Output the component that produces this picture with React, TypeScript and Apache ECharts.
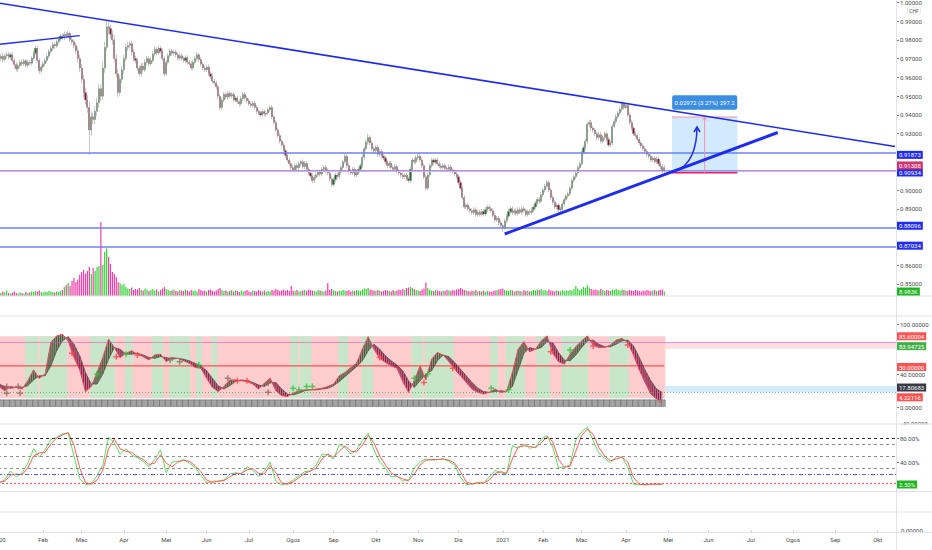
import React, { useEffect, useRef } from "react";
import * as echarts from "echarts";

const FONT = "Roboto, 'Liberation Sans', sans-serif";

// ---------- PRICE PANE (daily bars, values in 1/10000 CHF) ----------
const openP = [
  9690, 9700, 9712, 9695, 9715, 9722, 9708, 9720, 9690, 9668,
  9645, 9662, 9680, 9672, 9688, 9665, 9680, 9675, 9702, 9730,
  9755, 9690, 9635, 9655, 9672, 9690, 9712, 9738, 9755, 9775,
  9768, 9790, 9805, 9820, 9812, 9830, 9822, 9835, 9800, 9790,
  9770, 9742, 9700, 9650, 9590, 9520, 9480, 9440, 9320, 9390,
  9375, 9420, 9465, 9540, 9500, 9650, 9760, 9870, 9860, 9830,
  9800, 9700, 9620, 9520, 9590, 9640, 9700, 9760, 9770, 9780,
  9735, 9700, 9690, 9650, 9620, 9660, 9640, 9680, 9700, 9672,
  9690, 9725, 9750, 9730, 9755, 9740, 9700, 9620, 9680, 9715,
  9740, 9728, 9735, 9720, 9702, 9715, 9700, 9690, 9705, 9680,
  9672, 9650, 9680, 9700, 9720, 9695, 9670, 9650, 9640, 9655,
  9620, 9605, 9580, 9570, 9550, 9500, 9440, 9480, 9510, 9495,
  9515, 9500, 9510, 9480, 9490, 9470, 9460, 9488, 9510, 9490,
  9475, 9460, 9450, 9462, 9440, 9420, 9410, 9400, 9418, 9405,
  9410, 9428, 9440, 9390, 9360, 9320, 9290, 9260, 9240, 9210,
  9185, 9160, 9140, 9120, 9108, 9130, 9118, 9140, 9150, 9125,
  9142, 9110, 9090, 9075, 9050, 9068, 9080, 9098, 9085, 9110,
  9120, 9102, 9090, 9060, 9030, 9055, 9080, 9072, 9095, 9120,
  9150, 9180, 9130, 9100, 9092, 9110, 9080, 9095, 9110, 9130,
  9175, 9220, 9255, 9280, 9250, 9220, 9210, 9228, 9190, 9205,
  9180, 9170, 9150, 9130, 9142, 9120, 9110, 9125, 9100, 9090,
  9080, 9070, 9078, 9060, 9050, 9110, 9160, 9150, 9172, 9180,
  9160, 9130, 9070, 9010, 9080, 9130, 9160, 9148, 9160, 9140,
  9128, 9120, 9130, 9115, 9110, 9122, 9105, 9100, 9085, 9070,
  9040, 9010, 8960, 8910, 8920, 8900, 8890, 8880, 8895, 8870,
  8882, 8870, 8885, 8872, 8895, 8910, 8900, 8890, 8865, 8840,
  8850, 8825, 8810, 8800, 8835, 8860, 8885, 8900, 8880, 8890,
  8875, 8895, 8882, 8900, 8890, 8870, 8885, 8880, 8895, 8910,
  8930, 8950, 8940, 8975, 9000, 9020, 9040, 9000, 8960, 8935,
  8910, 8920, 8895, 8900, 8925, 8950, 8968, 8980, 9010, 9050,
  9070, 9090, 9120, 9140, 9200, 9225, 9260, 9350, 9360, 9330,
  9320, 9300, 9280, 9295, 9260, 9280, 9300, 9270, 9240, 9250,
  9340, 9365, 9390, 9410, 9430, 9460, 9440, 9450, 9400, 9360,
  9330, 9300, 9290, 9270, 9250, 9235, 9220, 9205, 9190, 9180,
  9160, 9170, 9150, 9165, 9140, 9125, 9100,
];
const closeP = [
  9700, 9712, 9695, 9715, 9722, 9708, 9720, 9690, 9668, 9645,
  9662, 9680, 9672, 9688, 9665, 9680, 9675, 9702, 9730, 9755,
  9690, 9635, 9655, 9672, 9690, 9712, 9738, 9755, 9775, 9768,
  9790, 9805, 9820, 9812, 9830, 9822, 9835, 9800, 9790, 9770,
  9742, 9700, 9650, 9590, 9520, 9480, 9440, 9320, 9390, 9375,
  9420, 9465, 9540, 9500, 9650, 9760, 9870, 9860, 9830, 9800,
  9700, 9620, 9520, 9590, 9640, 9700, 9760, 9770, 9780, 9735,
  9700, 9690, 9650, 9620, 9660, 9640, 9680, 9700, 9672, 9690,
  9725, 9750, 9730, 9755, 9740, 9700, 9620, 9680, 9715, 9740,
  9728, 9735, 9720, 9702, 9715, 9700, 9690, 9705, 9680, 9672,
  9650, 9680, 9700, 9720, 9695, 9670, 9650, 9640, 9655, 9620,
  9605, 9580, 9570, 9550, 9500, 9440, 9480, 9510, 9495, 9515,
  9500, 9510, 9480, 9490, 9470, 9460, 9488, 9510, 9490, 9475,
  9460, 9450, 9462, 9440, 9420, 9410, 9400, 9418, 9405, 9410,
  9428, 9440, 9390, 9360, 9320, 9290, 9260, 9240, 9210, 9185,
  9160, 9140, 9120, 9108, 9130, 9118, 9140, 9150, 9125, 9142,
  9110, 9090, 9075, 9050, 9068, 9080, 9098, 9085, 9110, 9120,
  9102, 9090, 9060, 9030, 9055, 9080, 9072, 9095, 9120, 9150,
  9180, 9130, 9100, 9092, 9110, 9080, 9095, 9110, 9130, 9175,
  9220, 9255, 9280, 9250, 9220, 9210, 9228, 9190, 9205, 9180,
  9170, 9150, 9130, 9142, 9120, 9110, 9125, 9100, 9090, 9080,
  9070, 9078, 9060, 9050, 9110, 9160, 9150, 9172, 9180, 9160,
  9130, 9070, 9010, 9080, 9130, 9160, 9148, 9160, 9140, 9128,
  9120, 9130, 9115, 9110, 9122, 9105, 9100, 9085, 9070, 9040,
  9010, 8960, 8910, 8920, 8900, 8890, 8880, 8895, 8870, 8882,
  8870, 8885, 8872, 8895, 8910, 8900, 8890, 8865, 8840, 8850,
  8825, 8810, 8800, 8835, 8860, 8885, 8900, 8880, 8890, 8875,
  8895, 8882, 8900, 8890, 8870, 8885, 8880, 8895, 8910, 8930,
  8950, 8940, 8975, 9000, 9020, 9040, 9000, 8960, 8935, 8910,
  8920, 8895, 8900, 8925, 8950, 8968, 8980, 9010, 9050, 9070,
  9090, 9120, 9140, 9200, 9225, 9260, 9350, 9360, 9330, 9320,
  9300, 9280, 9295, 9260, 9280, 9300, 9270, 9240, 9250, 9340,
  9365, 9390, 9410, 9430, 9460, 9440, 9450, 9400, 9360, 9330,
  9300, 9290, 9270, 9250, 9235, 9220, 9205, 9190, 9180, 9160,
  9170, 9150, 9165, 9140, 9125, 9100, 9120,
];
const highP = [
  9718, 9725, 9730, 9728, 9738, 9735, 9732, 9735, 9705, 9680,
  9675, 9692, 9695, 9700, 9700, 9695, 9692, 9715, 9742, 9770,
  9768, 9702, 9668, 9685, 9702, 9725, 9750, 9768, 9790, 9788,
  9802, 9818, 9832, 9835, 9845, 9842, 9848, 9845, 9815, 9805,
  9785, 9760, 9720, 9672, 9612, 9545, 9505, 9470, 9420, 9412,
  9445, 9490, 9565, 9560, 9680, 9790, 9900, 9895, 9880, 9850,
  9825, 9725, 9645, 9610, 9660, 9720, 9778, 9790, 9795, 9795,
  9750, 9715, 9705, 9665, 9675, 9678, 9695, 9715, 9712, 9705,
  9740, 9765, 9762, 9770, 9768, 9752, 9712, 9695, 9728, 9755,
  9752, 9748, 9748, 9732, 9728, 9728, 9712, 9718, 9718, 9692,
  9685, 9692, 9712, 9735, 9732, 9708, 9682, 9662, 9668, 9668,
  9632, 9618, 9592, 9582, 9562, 9512, 9492, 9522, 9522, 9528,
  9528, 9522, 9522, 9502, 9502, 9482, 9500, 9522, 9522, 9502,
  9488, 9472, 9475, 9475, 9452, 9432, 9422, 9430, 9430, 9422,
  9440, 9452, 9452, 9402, 9372, 9332, 9302, 9272, 9252, 9222,
  9198, 9172, 9152, 9132, 9142, 9142, 9152, 9162, 9162, 9155,
  9155, 9122, 9102, 9088, 9080, 9092, 9110, 9110, 9122, 9132,
  9132, 9115, 9102, 9072, 9068, 9092, 9092, 9108, 9132, 9162,
  9192, 9192, 9142, 9112, 9122, 9122, 9108, 9122, 9142, 9188,
  9232, 9268, 9300, 9292, 9262, 9232, 9240, 9240, 9218, 9218,
  9192, 9182, 9162, 9155, 9155, 9132, 9138, 9138, 9112, 9102,
  9092, 9090, 9090, 9072, 9122, 9172, 9172, 9185, 9192, 9192,
  9172, 9142, 9082, 9092, 9142, 9172, 9172, 9172, 9172, 9152,
  9140, 9142, 9142, 9128, 9135, 9135, 9118, 9112, 9098, 9082,
  9052, 9022, 8972, 8932, 8932, 8912, 8902, 8908, 8908, 8895,
  8895, 8898, 8898, 8908, 8922, 8922, 8912, 8902, 8878, 8862,
  8862, 8838, 8822, 8848, 8872, 8898, 8912, 8912, 8902, 8902,
  8908, 8908, 8912, 8912, 8902, 8898, 8898, 8908, 8922, 8942,
  8962, 8962, 8988, 9012, 9032, 9052, 9052, 9012, 8972, 8948,
  8932, 8932, 8912, 8938, 8962, 8980, 8992, 9022, 9062, 9082,
  9102, 9132, 9152, 9212, 9238, 9272, 9362, 9375, 9372, 9342,
  9332, 9312, 9308, 9308, 9292, 9312, 9312, 9282, 9262, 9352,
  9378, 9402, 9422, 9442, 9475, 9472, 9462, 9462, 9412, 9372,
  9342, 9312, 9302, 9282, 9262, 9248, 9232, 9218, 9202, 9192,
  9182, 9182, 9178, 9178, 9152, 9138, 9132,
];
const lowP = [
  9675, 9688, 9680, 9685, 9702, 9695, 9695, 9678, 9650, 9632,
  9630, 9650, 9660, 9660, 9652, 9652, 9662, 9662, 9690, 9718,
  9678, 9620, 9622, 9642, 9660, 9678, 9700, 9725, 9742, 9752,
  9755, 9778, 9792, 9798, 9800, 9808, 9810, 9788, 9775, 9755,
  9725, 9680, 9630, 9570, 9495, 9455, 9410, 9187, 9290, 9350,
  9350, 9395, 9440, 9475, 9480, 9625, 9740, 9830, 9805, 9775,
  9680, 9598, 9495, 9500, 9570, 9620, 9685, 9742, 9752, 9715,
  9685, 9675, 9635, 9605, 9605, 9625, 9628, 9665, 9658, 9660,
  9678, 9712, 9718, 9718, 9728, 9688, 9605, 9608, 9668, 9702,
  9715, 9715, 9708, 9690, 9690, 9688, 9678, 9678, 9668, 9660,
  9638, 9638, 9668, 9688, 9682, 9658, 9638, 9628, 9628, 9608,
  9592, 9568, 9558, 9535, 9485, 9425, 9428, 9468, 9482, 9482,
  9488, 9488, 9468, 9468, 9458, 9445, 9448, 9475, 9478, 9462,
  9448, 9438, 9438, 9428, 9408, 9398, 9388, 9388, 9392, 9392,
  9398, 9415, 9378, 9348, 9308, 9278, 9248, 9228, 9198, 9172,
  9148, 9128, 9108, 9095, 9095, 9105, 9105, 9128, 9112, 9112,
  9098, 9078, 9062, 9035, 9038, 9055, 9068, 9072, 9072, 9098,
  9090, 9078, 9048, 9018, 9018, 9042, 9060, 9060, 9082, 9108,
  9138, 9118, 9088, 9080, 9080, 9068, 9068, 9082, 9098, 9118,
  9162, 9208, 9242, 9238, 9208, 9198, 9198, 9178, 9178, 9168,
  9158, 9138, 9118, 9118, 9108, 9098, 9098, 9088, 9078, 9068,
  9058, 9058, 9048, 9038, 9038, 9098, 9138, 9138, 9160, 9148,
  9118, 9058, 8998, 8998, 9068, 9118, 9135, 9135, 9128, 9115,
  9108, 9108, 9102, 9098, 9098, 9092, 9088, 9072, 9058, 9028,
  8998, 8948, 8898, 8898, 8888, 8878, 8868, 8868, 8858, 8858,
  8858, 8858, 8860, 8860, 8882, 8888, 8878, 8852, 8828, 8828,
  8812, 8798, 8777, 8788, 8822, 8848, 8872, 8868, 8868, 8862,
  8862, 8870, 8870, 8878, 8858, 8858, 8868, 8868, 8882, 8898,
  8918, 8928, 8928, 8962, 8988, 9008, 8988, 8948, 8922, 8898,
  8898, 8882, 8882, 8888, 8912, 8938, 8955, 8968, 8998, 9038,
  9058, 9078, 9108, 9128, 9188, 9212, 9248, 9335, 9318, 9308,
  9288, 9268, 9268, 9248, 9248, 9268, 9258, 9228, 9228, 9238,
  9328, 9352, 9378, 9398, 9418, 9428, 9428, 9388, 9348, 9318,
  9288, 9278, 9258, 9238, 9222, 9208, 9192, 9178, 9168, 9148,
  9148, 9138, 9138, 9128, 9112, 9088, 9090,
];
// volume in thousands
const volumeK = [
  8, 6, 9, 7, 11, 6, 5, 7, 9, 6,
  5, 7, 6, 5, 8, 6, 7, 9, 8, 10,
  9, 11, 8, 7, 9, 8, 10, 9, 8, 7,
  9, 8, 10, 12, 18, 22, 26, 20, 30, 36,
  28, 33, 42, 48, 52, 45, 50, 58, 44, 56,
  50, 58, 60, 148, 62, 88, 95, 78, 64, 48,
  44, 38, 28, 26, 22, 24, 18, 15, 14, 17,
  12, 14, 13, 16, 12, 11, 15, 13, 10, 12,
  14, 11, 13, 9, 12, 15, 18, 14, 12, 10,
  11, 13, 10, 9, 12, 11, 10, 13, 11, 9,
  12, 10, 11, 9, 14, 12, 10, 11, 9, 12,
  13, 10, 9, 11, 14, 16, 12, 10, 11, 9,
  10, 12, 9, 11, 10, 8, 11, 9, 10, 12,
  9, 8, 11, 10, 9, 12, 10, 9, 11, 8,
  10, 9, 12, 11, 14, 12, 10, 11, 13, 10,
  12, 10, 20, 11, 10, 12, 9, 10, 11, 12,
  10, 13, 12, 11, 10, 9, 12, 11, 10, 9,
  11, 26, 12, 14, 11, 10, 9, 11, 10, 12,
  11, 10, 12, 9, 11, 10, 12, 11, 10, 13,
  15, 14, 16, 13, 12, 11, 10, 12, 11, 9,
  10, 12, 11, 10, 9, 12, 10, 11, 13, 12,
  14, 12, 16, 17, 18, 16, 14, 12, 11, 10,
  13, 15, 27, 16, 13, 11, 10, 12, 11, 10,
  9, 11, 10, 12, 11, 10, 12, 11, 13, 14,
  16, 14, 12, 11, 10, 9, 11, 10, 12, 9,
  10, 9, 11, 8, 10, 9, 8, 10, 11, 12,
  13, 14, 15, 12, 11, 10, 12, 11, 9, 10,
  11, 10, 9, 12, 10, 11, 9, 10, 12, 11,
  13, 12, 14, 11, 12, 10, 13, 11, 10, 9,
  11, 10, 9, 12, 10, 11, 10, 12, 11, 14,
  20, 15, 12, 14, 18, 16, 22, 17, 14, 12,
  13, 12, 11, 14, 12, 10, 12, 11, 10, 13,
  12, 14, 12, 11, 13, 12, 11, 10, 12, 11,
  10, 12, 11, 10, 9, 11, 10, 12, 11, 10,
  11, 12, 10, 11, 12, 13, 8.983,
];
// price-scale labels that are not covered by the level tags
const priceTicks = [0.85, 0.86, 0.89, 0.9, 0.93, 0.94, 0.95, 0.96, 0.97, 0.98, 0.99, 1.0];
const blueLevels = [0.91873, 0.90934, 0.88096, 0.87034];
const pinkLevel = 0.91308;
// trend lines: [barIndex, price]
const trendDown = [[0, 0.99956], [466, 0.92318]];
const trendSmall = [[0, 0.97757], [42, 0.98226]];
const trendUp = [[263, 0.87657], [405, 0.93064]];
// measure tool
const measureBars = [350, 367, 384];
const measurePrices = [0.90917, 0.93889];

// ---------- OSCILLATOR PANE (one point every 3 bars) ----------
const STEP = 3;
const oscFast = [
  25, 20, 25, 24, 22, 32, 45, 35, 40, 78, 86, 88, 80, 60, 45, 19, 25, 42, 60, 82,
  72, 60, 65, 68, 64, 61, 57, 63, 64, 55, 60, 59, 56, 53, 48, 47, 35, 24, 19, 25,
  33, 33, 32, 31, 28, 22, 29, 35, 20, 14, 13, 17, 20, 21, 21, 22, 23, 25, 28, 38,
  42, 48, 53, 70, 85, 70, 59, 54, 50, 47, 31, 18, 32, 50, 33, 58, 66, 63, 55, 46,
  38, 30, 22, 18, 16, 18, 22, 18, 19, 42, 70, 79, 67, 70, 80, 86, 65, 55, 52, 64,
  73, 80, 86, 75, 72, 72, 75, 81, 83, 78, 63, 45, 30, 16, 10, 4.22,
];
const oscSlow = [
  28, 25, 23, 24, 24, 26, 33, 38, 38, 50, 68, 80, 85, 76, 62, 42, 28, 28, 40, 58,
  72, 70, 64, 64, 65, 63, 60, 59, 61, 60, 58, 59, 58, 56, 53, 50, 44, 35, 26, 22,
  26, 31, 33, 32, 30, 27, 25, 30, 30, 22, 16, 15, 17, 20, 21, 21, 22, 23, 26, 31,
  37, 43, 49, 56, 68, 76, 70, 62, 56, 51, 44, 32, 24, 32, 40, 44, 56, 63, 61, 54,
  46, 38, 30, 23, 19, 18, 19, 20, 19, 25, 45, 65, 72, 70, 72, 79, 78, 66, 57, 56,
  63, 72, 80, 81, 76, 73, 73, 76, 80, 81, 74, 60, 45, 32, 22, 17.8,
];
// background state segments [fromBar, toBar] where trend is up (green)
const greenSegments = [
  [14, 20], [22, 35], [48, 60], [66, 69], [80, 85], [89, 99], [103, 105], [111, 113],
  [152, 155], [157, 162], [177, 181], [189, 194], [215, 220], [222, 236], [256, 259],
  [264, 273], [280, 286], [293, 306], [318, 327],
];
const bgRange = [11, 85.6];
const oscZoneHigh = [70.6, 78.6];
const oscZoneLow = [18.4, 25.7];
const oscMid = 50;
const plusGreen = [[51, 40], [66, 64], [104, 51], [153, 23], [156, 21], [160, 25], [163, 25], [216, 35], [223, 40], [256, 23], [265, 21], [297, 69]];
const plusRed = [[38, 65], [61, 61], [72, 63], [124, 32], [129, 32], [198, 60], [221, 30], [236, 47], [287, 67], [309, 74], [327, 75]];
const plusBrown = [[4, 25], [4, 17], [10, 25], [11, 17], [89, 57], [94, 55], [119, 35], [140, 29], [140, 18]];
const oscTags = [
  { v: 85.60004, bg: "#ff5252", dy: 0 },
  { v: 83.94725, bg: "#43b047", dy: 8.5 },
  { v: 50.0, bg: "#ff5252", dy: 1.2 },
  { v: 17.80683, bg: "#363a45", dy: -5 },
  { v: 4.22116, bg: "#ff5252", dy: -6.5 },
];
const oscTicks = [100, 40, 0];

// ---------- STOCH PANE (one point every 3 bars, %) ----------
const stochK = [
  5, 10, 25, 15, 22, 38, 62, 48, 60, 78, 81, 87, 88, 50, 12, 2, 4, 17, 35, 81,
  72, 53, 62, 52, 47, 41, 32, 44, 60, 22, 40, 41, 44, 38, 31, 18, 5, 8, 8, 10,
  20, 22, 20, 32, 26, 16, 25, 40, 8, 2, 4, 10, 17, 24, 25, 35, 53, 52, 45, 69,
  64, 53, 60, 76, 88, 60, 40, 30, 15, 17, 8, 10, 30, 40, 45, 43, 44, 45, 41, 35,
  15, 2, 4, 6, 5, 15, 26, 22, 20, 67, 63, 70, 63, 65, 78, 84, 65, 30, 32, 35,
  77, 90, 98, 76, 55, 46, 39, 49, 48, 32, 3, 2, 2, 3, 3, 2.5,
];
const stochD = [
  6, 8, 18, 20, 19, 30, 50, 55, 56, 70, 80, 85, 89, 68, 30, 6, 3, 10, 26, 62,
  78, 62, 58, 56, 49, 44, 36, 38, 52, 38, 32, 40, 43, 41, 34, 24, 10, 6, 8, 9,
  15, 21, 21, 27, 29, 21, 20, 34, 22, 5, 3, 7, 14, 21, 25, 30, 45, 53, 48, 58,
  67, 58, 57, 68, 84, 72, 50, 35, 22, 16, 12, 9, 20, 35, 43, 44, 44, 45, 43, 38,
  24, 7, 3, 5, 5, 10, 21, 24, 21, 45, 65, 67, 66, 64, 72, 82, 74, 45, 31, 33,
  58, 84, 95, 86, 64, 50, 42, 45, 48, 40, 14, 3, 2, 3, 3, 3,
];
const stochLevels = [
  { v: 80, color: "#2a2e39", type: [3, 3] },
  { v: 70, color: "#8f8f8f", type: [3, 3] },
  { v: 50, color: "#8f8f8f", type: [3, 3] },
  { v: 30, color: "#8f8f8f", type: [3, 3] },
  { v: 20, color: "#5063e6", type: [4, 2, 1, 2] },
  { v: 5, color: "#ff4d4d", type: [2, 2] },
];
const stochTicks = [80, 40];

// ---------- TIME AXIS ----------
const NUM_SLOTS = 467;
const MONTHS = ["Jan", "Feb", "Mac", "Apr", "Mei", "Jun", "Jul", "Ogos", "Sep", "Okt", "Nov", "Dis"];

function buildCalendar() {
  const cats: string[] = [];
  const labels: Record<string, string> = {};
  const starts: boolean[] = [];
  const dt = new Date(Date.UTC(2020, 0, 1));
  let prevM = -1;
  while (cats.length < NUM_SLOTS) {
    const wd = dt.getUTCDay();
    if (wd !== 0 && wd !== 6) {
      const y = dt.getUTCFullYear(), m = dt.getUTCMonth(), d = dt.getUTCDate();
      const key = `${y}-${m + 1}-${d}`;
      cats.push(key);
      const isStart = m !== prevM;
      starts.push(isStart);
      if (isStart) labels[key] = m === 0 ? String(y) : MONTHS[m];
      prevM = m;
    }
    dt.setUTCDate(dt.getUTCDate() + 1);
  }
  return { cats, labels, starts };
}

const GL = -2, GW = 898;
const BG_PINK = "#ffcdcd";
const BG_GREEN = "#c8e6c9";
const VOL_UP = "#38d038";
const VOL_DN = "#f23ca6";

function buildOption() {
  const { cats, labels, starts } = buildCalendar();
  const isStart = (i: number) => starts[i];
  const hiddenX = (g: number) => ({ type: "category", gridIndex: g, data: cats, show: false, boundaryGap: true });
  const axisText = { fontSize: 6, color: "#4a4a4a", fontFamily: FONT };
  const gridBase = { left: GL, width: GW, outerBoundsMode: "none", containLabel: false };
  const candles = closeP.map((c, i) => [openP[i] / 10000, c / 10000, lowP[i] / 10000, highP[i] / 10000]);
  const vols = volumeK.map((v, i) => ({ value: v, itemStyle: { color: closeP[i] >= openP[i] ? VOL_UP : VOL_DN } }));
  const fastData = oscFast.map((v, k) => [k * STEP, v]);
  const slowData = oscSlow.map((v, k) => [k * STEP, v]);
  const bgData = [[0, closeP.length - 1, 0], ...greenSegments.map((s) => [s[0], s[1], 1])];
  const stripData: number[][] = [];
  for (let b = 0; b < closeP.length; b += STEP) stripData.push([b, 9]);
  const plusPath = "path://M3,0h2v3h3v2h-3v3h-2v-3h-3v-2h3z";

  return {
    animation: false,
    backgroundColor: "#ffffff",
    grid: [
      { ...gridBase, top: -16.47, height: 319.1 },
      { ...gridBase, top: 216, height: 80 },
      { ...gridBase, top: 316, height: 107.9 },
      { ...gridBase, top: 423, height: 69 },
      { ...gridBase, top: 512, height: 20.7 },
    ],
    xAxis: [
      hiddenX(0), hiddenX(1), hiddenX(2), hiddenX(3),
      {
        type: "category", gridIndex: 4, data: cats, boundaryGap: true,
        axisLine: { show: false },
        axisTick: { show: true, alignWithLabel: true, inside: true, length: 2, interval: isStart, lineStyle: { color: "#b2b5be" } },
        axisLabel: { ...axisText, interval: isStart, margin: 4, hideOverlap: false, formatter: (v: string) => labels[v] || "" },
        splitLine: { show: false },
      },
    ],
    yAxis: [
      {
        type: "value", gridIndex: 0, position: "right", min: 0.84, max: 1.01,
        splitLine: { show: false }, axisLine: { show: false },
        axisTick: { show: true, length: 3, customValues: priceTicks, lineStyle: { color: "#787b86" } },
        axisLabel: { ...axisText, customValues: priceTicks, margin: 4, formatter: (v: number) => v.toFixed(5) },
      },
      { type: "value", gridIndex: 1, min: 0, max: 160, show: false },
      {
        type: "value", gridIndex: 2, position: "right", min: -20, max: 110,
        splitLine: { show: false }, axisLine: { show: false },
        axisTick: { show: true, length: 3, customValues: oscTicks, lineStyle: { color: "#787b86" } },
        axisLabel: { ...axisText, customValues: oscTicks, margin: 4, formatter: (v: number) => v.toFixed(5) },
      },
      {
        type: "value", gridIndex: 3, position: "right", min: -10, max: 105,
        splitLine: { show: false }, axisLine: { show: false },
        axisTick: { show: true, length: 3, customValues: stochTicks, lineStyle: { color: "#787b86" } },
        axisLabel: { ...axisText, customValues: stochTicks, margin: 4, formatter: (v: number) => v.toFixed(2) + "%" },
      },
      { type: "value", gridIndex: 4, min: 0, max: 1, show: false },
    ],
    series: [
      {
        type: "candlestick", xAxisIndex: 0, yAxisIndex: 0, data: candles, barWidth: 1.6, z: 3,
        itemStyle: { color: "#13731f", color0: "#8e0f2a", borderColor: "#8c8c8c", borderColor0: "#8c8c8c", borderWidth: 0.5 },
        markLine: {
          silent: true, symbol: ["none", "none"], label: { show: false },
          data: [
            ...blueLevels.map((v) => ({ yAxis: v, lineStyle: { color: "#7080f6", width: 1.5, type: "solid" } })),
            { yAxis: pinkLevel, lineStyle: { color: "#f2a7d2", width: 1, type: "solid" } },
          ],
        },
      },
      { type: "bar", xAxisIndex: 1, yAxisIndex: 1, data: vols, barWidth: 1.2 },
      {
        type: "custom", xAxisIndex: 2, yAxisIndex: 2, data: bgData, z: 1, silent: true,
        renderItem: (_p: any, api: any) => {
          const a = api.coord([api.value(0), bgRange[1]]);
          const b = api.coord([api.value(1), bgRange[0]]);
          const w = api.size([1, 0])[0];
          return { type: "rect", shape: { x: a[0] - w / 2, y: a[1], width: b[0] - a[0] + w, height: b[1] - a[1] }, style: { fill: api.value(2) ? BG_GREEN : BG_PINK } };
        },
      },
      {
        type: "line", xAxisIndex: 2, yAxisIndex: 2, data: [[0, oscMid], [closeP.length - 1, oscMid]], symbol: "none", z: 2, silent: true,
        lineStyle: { color: "#ff5252", width: 1.3 },
        markArea: {
          silent: true,
          data: [
            [{ yAxis: oscZoneHigh[0], itemStyle: { color: "rgba(242,54,69,0.16)" } }, { yAxis: oscZoneHigh[1] }],
            [{ yAxis: oscZoneLow[0], itemStyle: { color: "rgba(33,150,243,0.2)" } }, { yAxis: oscZoneLow[1] }],
          ],
        },
        markLine: {
          silent: true, symbol: ["none", "none"], label: { show: false },
          data: [
            { yAxis: oscZoneHigh[1], lineStyle: { color: "rgba(214,80,200,0.55)", width: 1, type: "solid" } },
            { yAxis: oscZoneLow[0], lineStyle: { color: "rgba(76,175,80,0.8)", width: 1, type: [1, 2] } },
          ],
        },
      },
      {
        type: "custom", xAxisIndex: 2, yAxisIndex: 2, data: fastData.slice(0, -1), z: 3, silent: true,
        renderItem: (params: any, api: any) => {
          const k = params.dataIndex;
          const b0 = k * STEP, b1 = (k + 1) * STEP;
          const a = api.coord([b0, oscFast[k]]), b = api.coord([b1, oscFast[k + 1]]);
          const c = api.coord([b1, oscSlow[k + 1]]), d = api.coord([b0, oscSlow[k]]);
          const up = oscFast[k] + oscFast[k + 1] >= oscSlow[k] + oscSlow[k + 1];
          const children: any[] = [{ type: "polygon", shape: { points: [a, b, c, d] }, style: { fill: up ? "rgba(70,70,48,0.45)" : "rgba(128,0,60,0.42)" } }];
          for (let j = 0; j < STEP; j++) {
            const t = j / STEP;
            const x = a[0] + (b[0] - a[0]) * t;
            children.push({ type: "line", shape: { x1: x, y1: a[1] + (b[1] - a[1]) * t, x2: x, y2: d[1] + (c[1] - d[1]) * t }, style: { stroke: up ? "#3d3d2a" : "#6e0a38", lineWidth: 0.8 } });
          }
          return { type: "group", children };
        },
      },
      {
        type: "custom", xAxisIndex: 2, yAxisIndex: 2, data: stripData, z: 3, silent: true,
        renderItem: (_p: any, api: any) => {
          const b = api.value(0);
          const a = api.coord([b, 9]), e = api.coord([b, 1]);
          const w = api.size([1, 0])[0];
          const n = Math.min(STEP, closeP.length - b);
          return { type: "rect", shape: { x: a[0] - w / 2, y: a[1], width: n * w, height: e[1] - a[1] }, style: { fill: "#a3a3a3", stroke: "#5e5e5e", lineWidth: 0.5 } };
        },
      },
      { type: "line", xAxisIndex: 2, yAxisIndex: 2, data: slowData, symbol: "none", z: 4, lineStyle: { color: "#5e5a4a", width: 0.8 } },
      { type: "line", xAxisIndex: 2, yAxisIndex: 2, data: fastData, symbol: "none", z: 4, lineStyle: { color: "#ee4a62", width: 1 } },
      { type: "scatter", xAxisIndex: 2, yAxisIndex: 2, data: plusBrown, symbol: plusPath, symbolSize: 6, z: 5, itemStyle: { color: "#8a6e5a" } },
      { type: "scatter", xAxisIndex: 2, yAxisIndex: 2, data: plusGreen, symbol: plusPath, symbolSize: 6, z: 5, itemStyle: { color: "#3fbf3f" } },
      { type: "scatter", xAxisIndex: 2, yAxisIndex: 2, data: plusRed, symbol: plusPath, symbolSize: 6, z: 5, itemStyle: { color: "#ff4444" } },
      {
        type: "line", xAxisIndex: 3, yAxisIndex: 3, data: stochK.map((v, k) => [k * STEP, v]), symbol: "none", z: 3,
        lineStyle: { color: "#5fdc5f", width: 1 },
        markLine: {
          silent: true, symbol: ["none", "none"], label: { show: false },
          data: stochLevels.map((l) => ({ yAxis: l.v, lineStyle: { color: l.color, width: 1, type: l.type } })),
        },
      },
      { type: "line", xAxisIndex: 3, yAxisIndex: 3, data: stochD.map((v, k) => [k * STEP, v]), symbol: "none", z: 4, lineStyle: { color: "#ff5c5c", width: 1 } },
    ],
  };
}

function buildGraphics(chart: any) {
  const P = (g: number, x: number, y: number) => chart.convertToPixel({ gridIndex: g }, [x, y]) as number[];
  const els: any[] = [];
  const line = (x1: number, y1: number, x2: number, y2: number, stroke: string, w: number, z = 50) =>
    els.push({ type: "line", silent: true, z, shape: { x1, y1, x2, y2 }, style: { stroke, lineWidth: w } });
  const tag = (y: number, text: string, bg: string) =>
    els.push({ type: "text", silent: true, z: 60, x: 897, y, style: { text, fill: "#ffffff", backgroundColor: bg, padding: [1.2, 2, 0.8, 2], font: `6px ${FONT}`, verticalAlign: "middle", align: "left" } });
  const label = (x: number, y: number, text: string, z = 44) =>
    els.push({ type: "text", silent: true, z, x, y, style: { text, fill: "#4a4a4a", font: `6px ${FONT}`, verticalAlign: "middle", align: "left" } });

  // pane separators and price-scale border
  label(901, 423, "-40.00000");
  els.push({ type: "rect", silent: true, z: 45, shape: { x: 897, y: 424.5, width: 40, height: 6 }, style: { fill: "#ffffff" } });
  [296, 316, 424, 491.5, 512, 532.5].forEach((y) => line(0, y, 932, y, "#e0e3eb", 1));
  line(896.5, 0, 896.5, 550, "#e0e3eb", 1);
  label(901, 530, "0.00000");
  els.push({ type: "text", silent: true, z: 60, x: 914, y: 10.5, style: { text: "CHF", fill: "#555", font: `5px ${FONT}`, align: "center", verticalAlign: "middle", borderColor: "#cfd2da", borderWidth: 0.5, padding: [1, 1.5, 0.5, 1.5], borderRadius: 1, backgroundColor: "#fff" } });

  // trend lines
  const trend = (pts: number[][], color: string, w: number) => {
    const a = P(0, pts[0][0], pts[0][1]);
    const b = P(0, pts[1][0], pts[1][1]);
    line(a[0], a[1], b[0], b[1], color, w, 52);
  };
  trend(trendDown, "#1e2cf0", 1.6);
  trend(trendSmall, "#1e2cf0", 1.4);
  trend(trendUp, "#1e2cf0", 3);

  // measure tool
  const [mLo, mHi] = measurePrices;
  const tl = P(0, measureBars[0], mHi);
  const br = P(0, measureBars[2], mLo);
  const mid = P(0, measureBars[1], mHi)[0];
  els.push({ type: "rect", silent: true, z: 40, shape: { x: tl[0], y: tl[1], width: br[0] - tl[0], height: br[1] - tl[1] }, style: { fill: "rgba(33,150,243,0.2)" } });
  line(tl[0], tl[1], br[0], tl[1], "#f48fb1", 1, 41);
  line(tl[0], br[1], br[0], br[1], "#e91e63", 1.5, 41);
  line(mid, tl[1], mid, br[1], "#f48fb1", 1, 41);
  els.push({ type: "polyline", silent: true, z: 41, shape: { points: [[mid - 2.5, tl[1] + 3.5], [mid, tl[1] + 0.5], [mid + 2.5, tl[1] + 3.5]] }, style: { stroke: "#f48fb1", lineWidth: 1, fill: "none" } });
  const diff = mHi - mLo;
  const mText = `${diff.toFixed(5)} (${((diff / mLo) * 100).toFixed(2)}%) ${(diff * 10000).toFixed(1)}`;
  els.push({ type: "text", silent: true, z: 60, x: (tl[0] + br[0]) / 2, y: tl[1] - 14.5, style: { text: mText, fill: "#ffffff", backgroundColor: "#3b8de2", padding: [4.5, 2.5, 4, 2.5], borderRadius: 2, font: `6px ${FONT}`, align: "center", verticalAlign: "middle" } });
  const ex = tl[0] + 25, ey = tl[1] + 10;
  els.push({ type: "bezierCurve", silent: true, z: 53, shape: { x1: tl[0] + 3, y1: br[1] - 2, cpx1: tl[0] + 19, cpy1: br[1] - 6, cpx2: ex, cpy2: br[1] - 26, x2: ex, y2: ey }, style: { stroke: "#1e2cf0", lineWidth: 1.5, fill: "none" } });
  els.push({ type: "polyline", silent: true, z: 53, shape: { points: [[ex - 3, ey + 5], [ex, ey], [ex + 3, ey + 5]] }, style: { stroke: "#1e2cf0", lineWidth: 1.5, fill: "none" } });

  // price-scale tags
  blueLevels.forEach((v) => tag(P(0, 0, v)[1], v.toFixed(5), "#1f2bf2"));
  tag(P(0, 0, pinkLevel)[1], pinkLevel.toFixed(5), "#cf356f");
  const lastVol = volumeK[volumeK.length - 1];
  tag(P(1, closeP.length - 1, lastVol)[1], `${lastVol.toFixed(3)}K`, "#22b522");
  oscTags.forEach((t) => tag(P(2, 0, t.v)[1] + t.dy, t.v.toFixed(5), t.bg));
  const lastK = stochK[stochK.length - 1];
  tag(P(3, 0, lastK)[1], `${lastK.toFixed(2)}%`, "#22b522");
  return els;
}

export default function App() {
  const ref = useRef<HTMLDivElement>(null);
  useEffect(() => {
    document.body.style.margin = "0";
    const chart = echarts.init(ref.current as HTMLDivElement, null, { renderer: "svg" });
    chart.setOption(buildOption() as any);
    chart.setOption({ graphic: buildGraphics(chart) } as any);
    return () => chart.dispose();
  }, []);
  return <div ref={ref} style={{ width: 932, height: 550, background: "#fff" }} />;
}
